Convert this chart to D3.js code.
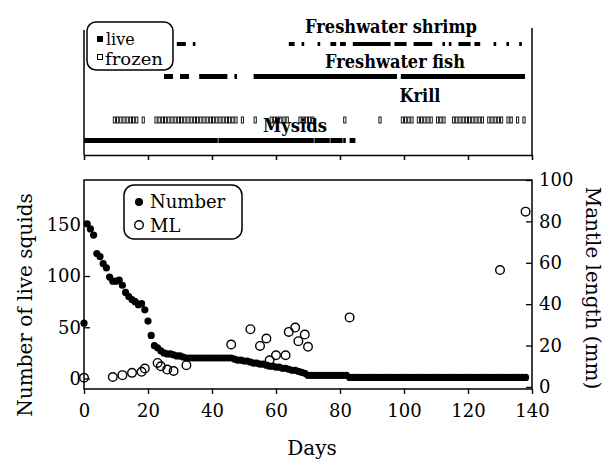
<!DOCTYPE html>
<html><head><meta charset="utf-8">
<script src="https://cdn.jsdelivr.net/npm/d3@7"></script>
<style>body{margin:0;background:#fff}svg{display:block}text{font-family:"DejaVu Serif",serif;fill:#000}</style>
</head><body><svg id="c" width="613" height="460"></svg>
<script>
// ---- data ----
// number of live squids, one value per day (index = day 0..138)
const numberOfLive = [
  54,151,146,140,122,119,112,108,99,95,
  95,96,91,84,80,77,75,72,73,67,
  56,42,32,30,27,25,24,24,23,22,
  22,21,
  20,20,20,20,20,20,20,20,20,20,20,20,20,20,20,
  19,18,18,17,17,
  16,15,15,14,14,13,
  12,12,11,11,10,10,
  9,8,8,7,
  6,5,
  3,3,3,3,3,3,3,3,3,3,3,3,3,
  1,1,1,1,1,1,1,1,1,1,1,1,1,1,1,1,1,1,1,1,1,1,1,1,1,1,1,1,
  1,1,1,1,1,1,1,1,1,1,1,1,1,1,1,1,1,1,1,1,1,1,1,1,1,1,1,1
];
// mantle length (mm)
const mlDays   = [0,9,12,15,18,19,23,24,26,28,32,46,52,55,57,58,60,63,64,66,67,69,70,83,130,138];
const mlValues = [4.4,4.8,5.7,6.8,7.3,8.9,11.6,10,8.4,7.7,10.5,20.5,27.9,19.8,23.4,12.9,15.3,15.3,26.6,28.7,22.1,25.3,19.4,33.6,56.5,84.7];
// feeding periods [first day, last day]
const shrimpLive  = [[29,31],[34,34],[64,65],[68,68],[73,73],[77,78],[80,81],[84,95],[97,100],[103,108],[112,112],[114,114],[117,120],[122,123],[128,128],[132,132],[136,136]];
const fishLive    = [[25,27],[30,32],[36,44],[47,47],[53,97],[99,137]];
const krillFrozen = [[9,16],[18,18],[22,47],[49,49],[53,53],[58,63],[67,71],[81,81],[92,92],[99,102],[104,108],[110,112],[115,124],[126,130],[132,133],[135,135],[137,137]];
const mysidsLive  = [[0,41],[42,71],[72,76],[77,80],[81,81],[83,84]];
const xTicks = [0,20,40,60,80,100,120,140];
const yLeftTicks = [0,50,100,150];
const yRightTicks = [0,20,40,60,80,100];

// ---- drawing ----
const svg = d3.select("#c");
const x = d3.scaleLinear().domain([0,140]).range([84,532]);
const yL = d3.scaleLinear().domain([-10.25,193.7]).range([389,180]);
const yR = d3.scaleLinear().domain([-1,100]).range([389,180]);

// ===== top panel =====
const topG = svg.append("g");
const tAx = topG.append("g").attr("transform","translate(0,155)")
  .call(d3.axisBottom(x).tickValues(xTicks).tickSize(5).tickSizeOuter(0).tickFormat(""));
tAx.selectAll("path,line").attr("stroke","#000").attr("stroke-width",1.5);
topG.append("line").attr("x1",84).attr("x2",84).attr("y1",30).attr("y2",155).attr("stroke","#000").attr("stroke-width",1.5);
topG.append("line").attr("x1",532).attr("x2",532).attr("y1",28).attr("y2",155).attr("stroke","#000").attr("stroke-width",1.5);

function liveRow(segs, cy, h){
  topG.append("g").selectAll("rect").data(segs).join("rect")
    .attr("x", d=>x(d[0])).attr("width", d=>x(d[1]+1)-x(d[0])-0.6)
    .attr("y", cy-h/2).attr("height", h).attr("fill","#000");
}
liveRow(shrimpLive, 44, 4);
liveRow(fishLive, 76.5, 5);
liveRow(mysidsLive, 140.5, 5);
const krillDays = krillFrozen.flatMap(s => d3.range(s[0], s[1]+1));
topG.append("g").selectAll("rect").data(krillDays).join("rect")
  .attr("x", d=>x(d)+0.5).attr("width",2.2).attr("y",117).attr("height",6)
  .attr("fill","#fff").attr("stroke","#000").attr("stroke-width",0.9);

const lab = (t,cx,by,w)=>topG.append("text").attr("x",cx).attr("y",by).attr("text-anchor","middle")
  .attr("font-weight","bold").attr("font-size",19)
  .attr("textLength",w).attr("lengthAdjust","spacingAndGlyphs").text(t);
lab("Freshwater shrimp",391,33,172);
lab("Freshwater fish",395,68,140);
lab("Krill",420,102,41);
lab("Mysids",295,132,64);

// top legend
topG.append("rect").attr("x",87).attr("y",22).attr("width",86).attr("height",48).attr("rx",9)
  .attr("fill","#fff").attr("stroke","#000").attr("stroke-width",1.5);
topG.append("rect").attr("x",97).attr("y",36).attr("width",6).attr("height",6).attr("fill","#000");
topG.append("rect").attr("x",97.5).attr("y",54.5).attr("width",5).attr("height",5).attr("fill","#fff").attr("stroke","#000").attr("stroke-width",1);
topG.append("text").attr("x",106).attr("y",45).attr("font-size",16).text("live");
topG.append("text").attr("x",105).attr("y",64.5).attr("font-size",16).attr("textLength",58).attr("lengthAdjust","spacingAndGlyphs").text("frozen");

// ===== bottom panel =====
const bot = svg.append("g");
bot.append("rect").attr("x",84).attr("y",180).attr("width",448).attr("height",209)
  .attr("fill","none").attr("stroke","#000").attr("stroke-width",1.5);

const gx = bot.append("g").attr("transform","translate(0,389)")
  .call(d3.axisBottom(x).tickValues(xTicks).tickSize(5).tickSizeOuter(0).tickPadding(10));
const gl = bot.append("g").attr("transform","translate(84,0)")
  .call(d3.axisLeft(yL).tickValues(yLeftTicks).tickSizeInner(-6).tickSizeOuter(0).tickPadding(3));
const gr = bot.append("g").attr("transform","translate(532,0)")
  .call(d3.axisRight(yR).tickValues(yRightTicks).tickSizeInner(-6).tickSizeOuter(0).tickPadding(7));
[gx,gl,gr].forEach(g=>{
  g.select(".domain").remove();
  g.selectAll("line").attr("stroke","#000").attr("stroke-width",1.3);
  g.selectAll("text").attr("font-family","DejaVu Serif").attr("font-size",18).attr("fill","#000");
});

bot.append("g").selectAll("circle").data(numberOfLive).join("circle")
  .attr("cx",(d,i)=>x(i)).attr("cy",d=>yL(d)).attr("r",3.6).attr("fill","#000");
bot.append("g").selectAll("circle").data(mlDays).join("circle")
  .attr("cx",d=>x(d)).attr("cy",(d,i)=>yR(mlValues[i])).attr("r",4.3)
  .attr("fill","none").attr("stroke","#000").attr("stroke-width",1.4);

// titles
svg.append("text").attr("x",312).attr("y",455).attr("text-anchor","middle").attr("font-size",20).text("Days");
svg.append("text").attr("transform","translate(32,305) rotate(-90)").attr("text-anchor","middle").attr("font-size",20).text("Number of live squids");
svg.append("text").attr("transform","translate(586,288) rotate(90)").attr("text-anchor","middle").attr("font-size",20).text("Mantle length (mm)");

// bottom legend
bot.append("rect").attr("x",124).attr("y",185).attr("width",118).attr("height",54).attr("rx",10)
  .attr("fill","#fff").attr("stroke","#000").attr("stroke-width",1.5);
bot.append("circle").attr("cx",139).attr("cy",202).attr("r",4).attr("fill","#000");
bot.append("circle").attr("cx",139).attr("cy",225).attr("r",4.3).attr("fill","none").attr("stroke","#000").attr("stroke-width",1.4);
bot.append("text").attr("x",150).attr("y",208).attr("font-size",18).text("Number");
bot.append("text").attr("x",150).attr("y",232).attr("font-size",18).text("ML");
</script></body></html>
